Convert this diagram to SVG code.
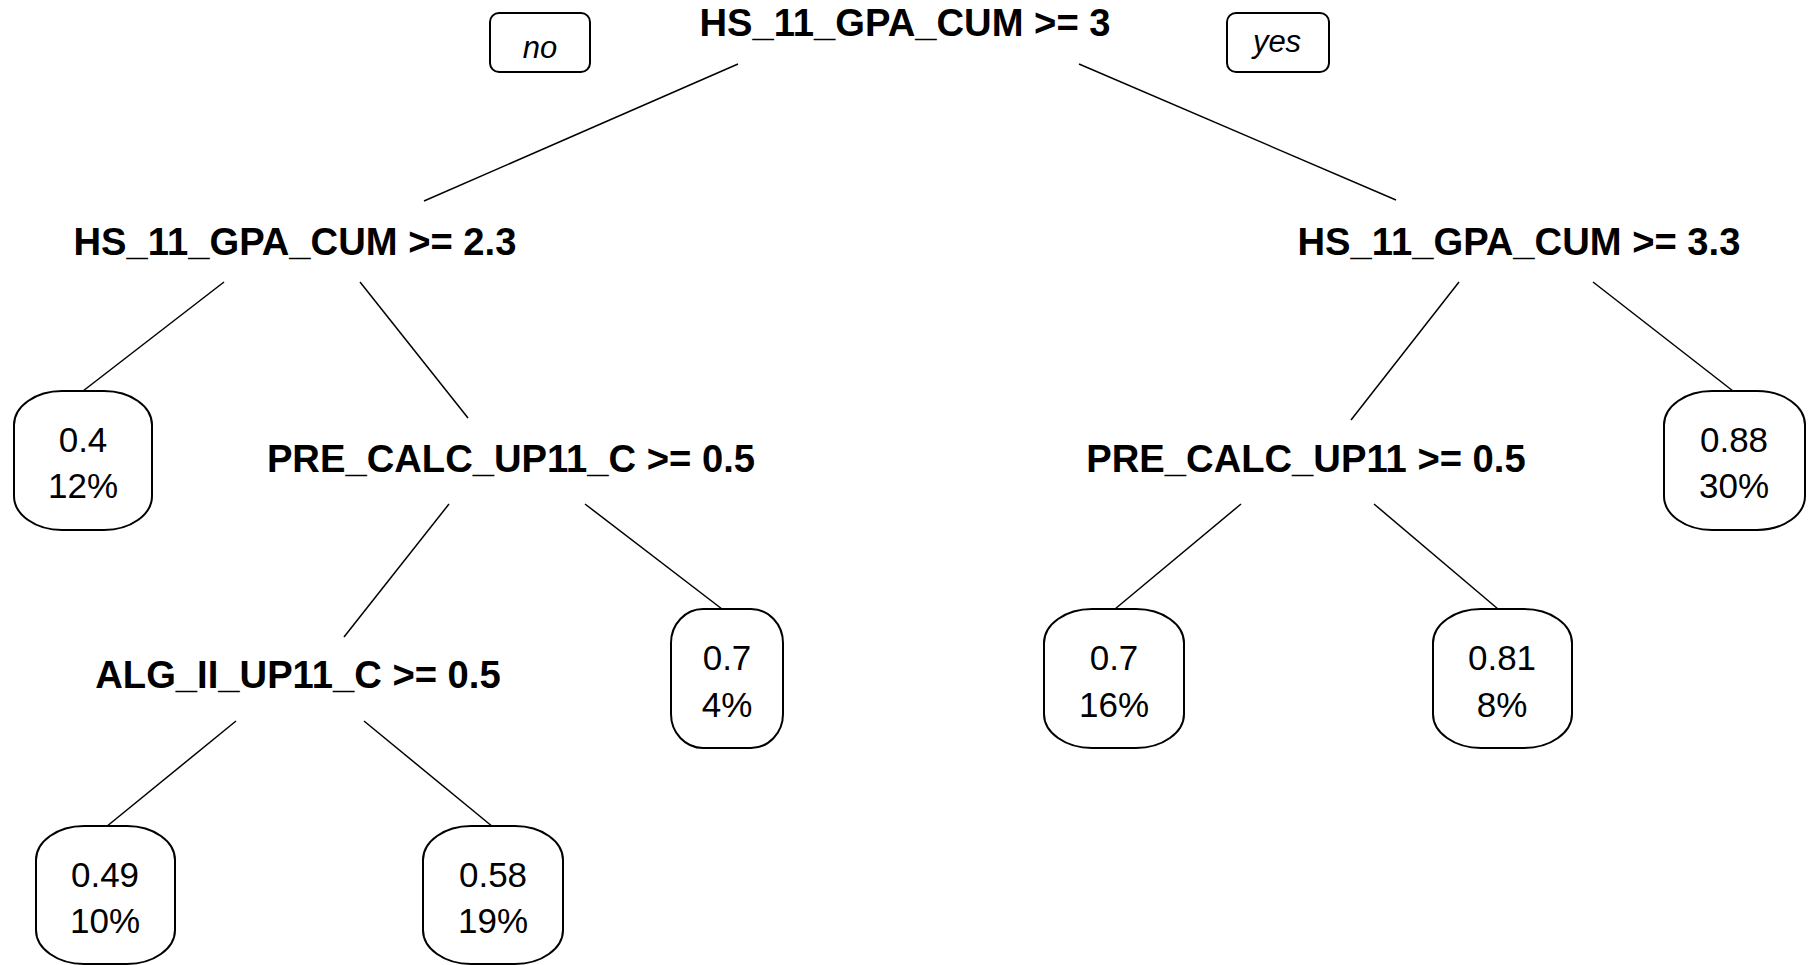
<svg xmlns="http://www.w3.org/2000/svg" width="1812" height="965" viewBox="0 0 1812 965">
<style>
.split{font-family:"Liberation Sans",Arial,sans-serif;font-weight:bold;font-size:38.2px;fill:#000;text-anchor:middle}
.leaf{font-family:"Liberation Sans",Arial,sans-serif;font-size:35px;fill:#000;text-anchor:middle}
.yn{font-family:"Liberation Sans",Arial,sans-serif;font-style:italic;font-size:31px;fill:#000;text-anchor:middle}
.box{fill:#fff;stroke:#000;stroke-width:2}
.edge{stroke:#000;stroke-width:1.5;fill:none}
</style>
<rect width="1812" height="965" fill="#fff"/>
<g id="connectors">
<line class="edge" x1="738" y1="64" x2="424" y2="201"/>
<line class="edge" x1="1079" y1="64" x2="1396" y2="200"/>
<line class="edge" x1="224" y1="282" x2="83" y2="391"/>
<line class="edge" x1="360" y1="282" x2="468" y2="418"/>
<line class="edge" x1="449" y1="504" x2="344" y2="637"/>
<line class="edge" x1="585" y1="504" x2="722" y2="609"/>
<line class="edge" x1="236" y1="721" x2="106" y2="827"/>
<line class="edge" x1="364" y1="721" x2="493" y2="827"/>
<line class="edge" x1="1459" y1="282" x2="1351" y2="420"/>
<line class="edge" x1="1593" y1="282" x2="1733" y2="391"/>
<line class="edge" x1="1241" y1="504" x2="1115" y2="609"/>
<line class="edge" x1="1374" y1="504" x2="1498" y2="609"/>
</g>
<g id="label-no">
<rect class="box" x="490" y="13" width="100" height="59" rx="9" ry="9"/>
<text class="yn" x="540" y="58">no</text>
</g>
<g id="label-yes">
<rect class="box" x="1227" y="13" width="102" height="59" rx="9" ry="9"/>
<text class="yn" x="1277" y="52">yes</text>
</g>
<g id="n1"><text class="split" x="905" y="36">HS_11_GPA_CUM &gt;= 3</text></g>
<g id="n2"><text class="split" x="295" y="255">HS_11_GPA_CUM &gt;= 2.3</text></g>
<g id="n3"><text class="split" x="1519" y="255">HS_11_GPA_CUM &gt;= 3.3</text></g>
<g id="n5"><text class="split" x="511" y="472">PRE_CALC_UP11_C &gt;= 0.5</text></g>
<g id="n6"><text class="split" x="1306" y="472">PRE_CALC_UP11 &gt;= 0.5</text></g>
<g id="n10"><text class="split" x="298" y="688">ALG_II_UP11_C &gt;= 0.5</text></g>
<g id="leaf4">
<rect class="box" x="14" y="391" width="138" height="139" rx="48" ry="34"/>
<text class="leaf" x="83" y="452">0.4</text>
<text class="leaf" x="83" y="498">12%</text>
</g>
<g id="leaf11">
<rect class="box" x="671" y="609" width="112" height="139" rx="32" ry="34"/>
<text class="leaf" x="727" y="670">0.7</text>
<text class="leaf" x="727" y="717">4%</text>
</g>
<g id="leaf20">
<rect class="box" x="36" y="826" width="139" height="138" rx="48" ry="34"/>
<text class="leaf" x="105" y="887">0.49</text>
<text class="leaf" x="105" y="933">10%</text>
</g>
<g id="leaf21">
<rect class="box" x="423" y="826" width="140" height="138" rx="48" ry="34"/>
<text class="leaf" x="493" y="887">0.58</text>
<text class="leaf" x="493" y="933">19%</text>
</g>
<g id="leaf12">
<rect class="box" x="1044" y="609" width="140" height="139" rx="48" ry="34"/>
<text class="leaf" x="1114" y="670">0.7</text>
<text class="leaf" x="1114" y="717">16%</text>
</g>
<g id="leaf13">
<rect class="box" x="1433" y="609" width="139" height="139" rx="48" ry="34"/>
<text class="leaf" x="1502" y="670">0.81</text>
<text class="leaf" x="1502" y="717">8%</text>
</g>
<g id="leaf7">
<rect class="box" x="1664" y="391" width="141" height="139" rx="48" ry="34"/>
<text class="leaf" x="1734" y="452">0.88</text>
<text class="leaf" x="1734" y="498">30%</text>
</g>
</svg>
